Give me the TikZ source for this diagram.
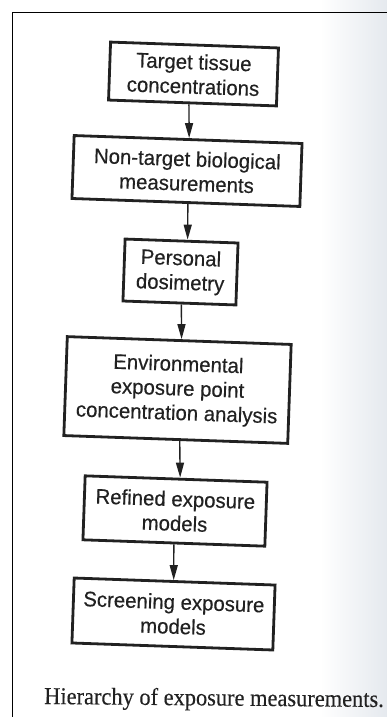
\documentclass[tikz,border=0pt]{standalone}
\usepackage{fontspec}
\setmainfont{Liberation Serif}[FakeBold=0.3]
\newfontfamily\boxfont{Liberation Sans}[FakeStretch=0.97,FakeBold=0.4]
\usetikzlibrary{arrows.meta}
\definecolor{ink}{gray}{0.13}
\definecolor{pageshade}{RGB}{229,233,238}
\begin{document}
\begin{tikzpicture}[x=1pt,y=-1pt,
  stage/.style={draw=ink, line width=2.8pt, rotate=-2, align=center,
    inner sep=0pt, text=ink, font=\boxfont\fontsize{21}{24.5}\selectfont},
  link/.style={draw=ink, line width=1.4pt,
    -{Triangle[length=15pt,width=8pt]}},
  caption/.style={text=ink, inner sep=0pt, anchor=base west,
    rotate=-0.5, yscale=1.08, transform shape,
    font=\fontsize{22.4}{24}\selectfont}]
\useasboundingbox (0,0) rectangle (387,717);
% page tint towards the binding edge
\shade[left color=white, right color=pageshade] (320,0) rectangle (387,717);
% figure frame
\draw[line width=1.8pt] (12.5,717) -- (12.5,12.5) -- (387,12.5);

% stages of the hierarchy
\node[stage, minimum width=168, minimum height=58] (b1) at (193.5,74)
  {Target tissue\\concentrations};
\node[stage, minimum width=228, minimum height=63] (b2) at (187,171)
  {Non-target biological\\measurements};
\node[stage, minimum width=113, minimum height=62] (b3) at (180.5,272)
  {Personal\\dosimetry};
\node[stage, minimum width=224, minimum height=99] (b4) at (177.5,390)
  {Environmental\\exposure point\\concentration analysis};
\node[stage, minimum width=182, minimum height=64] (b5) at (175,511)
  {Refined exposure\\models};
\node[stage, minimum width=201, minimum height=65] (b6) at (173.5,614)
  {Screening exposure\\models};

% links between stages
\draw[link] ([xshift=-3.5pt]b1.south) -- ([xshift=1pt]b2.north);
\draw[link] ([xshift=2pt]b2.south) -- ([xshift=6pt]b3.north);
\draw[link] ([xshift=2pt]b3.south) -- ([xshift=2.3pt]b4.north);
\draw[link] ([xshift=4pt]b4.south) -- ([xshift=4pt]b5.north);
\draw[link] (b5.south) -- ([xshift=-1pt]b6.north);

\node[caption] (cap) at (44,704) {Hierarchy of exposure measurements.};
\end{tikzpicture}
\end{document}
